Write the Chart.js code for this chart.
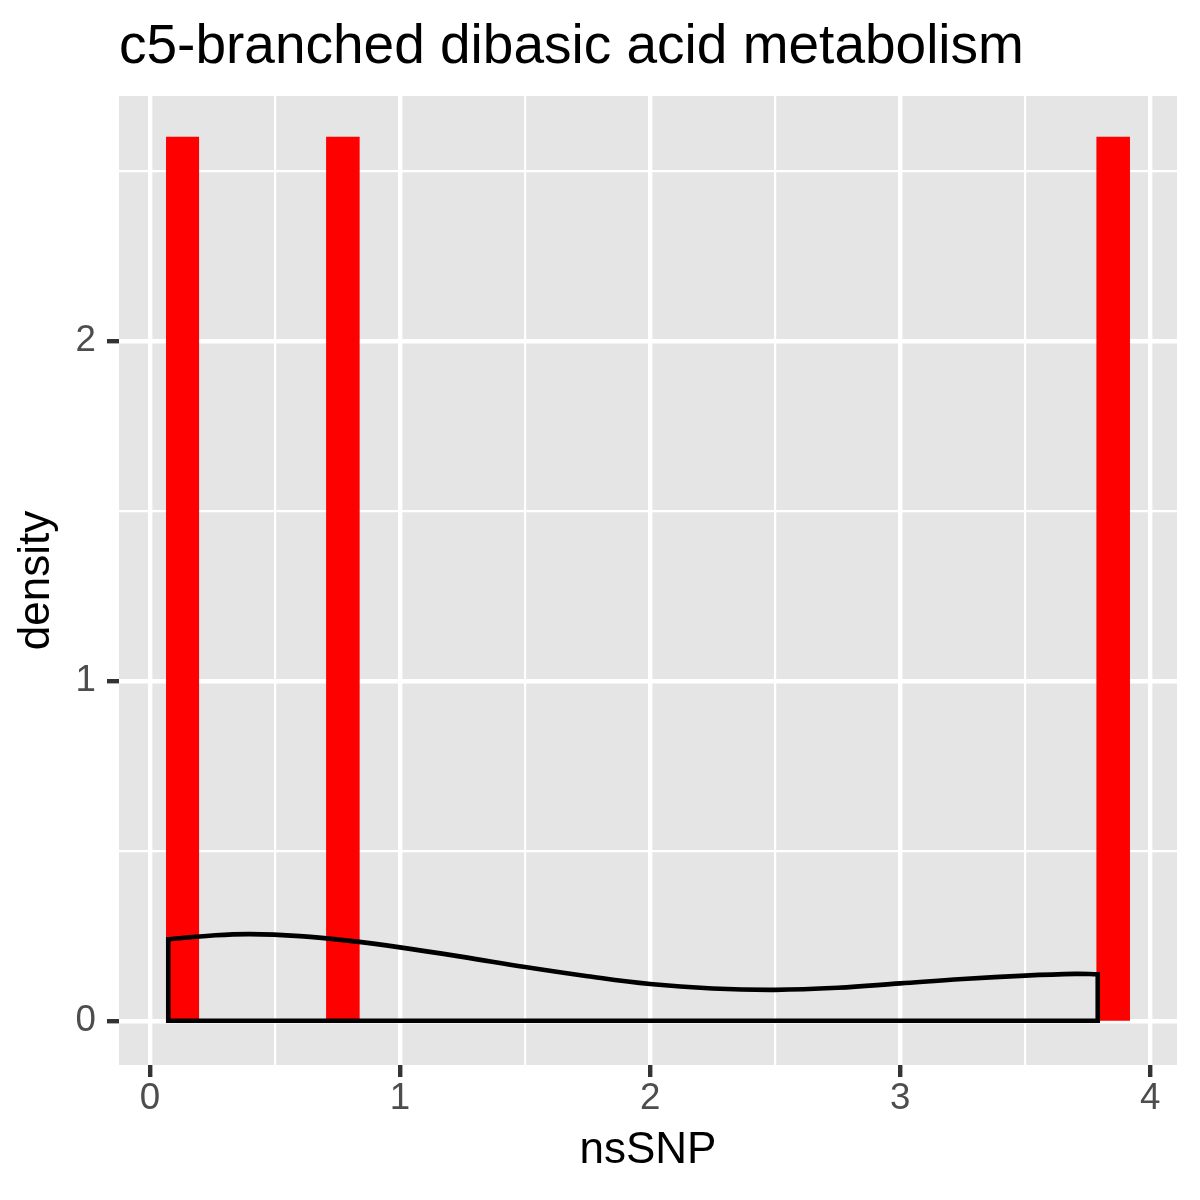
<!DOCTYPE html>
<html>
<head>
<meta charset="utf-8">
<script src="https://cdn.jsdelivr.net/npm/chart.js@4.4.0/dist/chart.umd.min.js"></script>
<style>
  body { margin: 0; background: #fff; }
  #wrap { width: 1200px; height: 1200px; }
</style>
</head>
<body>
<div id="wrap"><canvas id="densityChart"></canvas></div>
<script>
// histogram bins (nsSNP), density per bin
const binStart = [0.064, 0.704, 3.784];
const binEnd = [0.197, 0.839, 3.919];
const binDensity = [2.6, 2.6, 2.6];

// kernel density curve
const densityX = [0.073, 0.25, 0.4, 0.6, 0.8, 1.0, 1.25, 1.5, 1.75, 2.0, 2.25, 2.5, 2.75, 3.0, 3.25, 3.5, 3.7, 3.79];
const densityY = [0.240, 0.251, 0.255, 0.249, 0.235, 0.216, 0.188, 0.158, 0.131, 0.108, 0.095, 0.091, 0.097, 0.110, 0.123, 0.133, 0.138, 0.137];

// axis ticks
const xMajor = [0, 1, 2, 3, 4];
const xMinor = [0.5, 1.5, 2.5, 3.5];
const yMajor = [0, 1, 2];
const yMinor = [0.5, 1.5, 2.5];

const FONT = "'Liberation Sans', Arial, Helvetica, sans-serif";

function isMajor(list, v) {
    return list.some(m => Math.abs(m - v) < 1e-9);
}

// one filled rectangle per bin
const barSets = binStart.map((s, i) => ({
    data: [
        { x: s, y: 0 },
        { x: s, y: binDensity[i] },
        { x: binEnd[i], y: binDensity[i] },
        { x: binEnd[i], y: 0 }
    ],
    showLine: true,
    fill: 'origin',
    backgroundColor: '#FF0000',
    borderColor: 'rgba(0,0,0,0)',
    borderWidth: 0,
    pointRadius: 0,
    tension: 0
}));

const last = densityX.length - 1;

const curveSet = {
    data: densityX.map((x, i) => ({ x: x, y: densityY[i] })),
    showLine: true,
    fill: false,
    borderColor: '#000000',
    borderWidth: 4.6,
    pointRadius: 0,
    tension: 0.4
};

const outlineSet = {
    data: [
        { x: densityX[0], y: densityY[0] },
        { x: densityX[0], y: 0 },
        { x: densityX[last], y: 0 },
        { x: densityX[last], y: densityY[last] }
    ],
    showLine: true,
    fill: false,
    borderColor: '#000000',
    borderWidth: 4.6,
    borderJoinStyle: 'miter',
    borderCapStyle: 'square',
    pointRadius: 0,
    tension: 0
};

const panelBg = {
    id: 'panelBg',
    beforeDraw(chart) {
        const a = chart.chartArea;
        const c = chart.ctx;
        c.save();
        c.fillStyle = '#E5E5E5';
        c.fillRect(a.left, a.top, a.right - a.left, a.bottom - a.top);
        c.restore();
    }
};

const plotTitle = {
    id: 'plotTitle',
    afterDraw(chart) {
        const c = chart.ctx;
        c.save();
        c.fillStyle = '#000000';
        c.font = '55px ' + FONT;
        c.textAlign = 'left';
        c.textBaseline = 'alphabetic';
        c.fillText('c5-branched dibasic acid metabolism', chart.chartArea.left, 63);
        c.restore();
    }
};

function gridFor(major) {
    return {
        color: '#FFFFFF',
        lineWidth: ctx => isMajor(major, ctx.tick.value) ? 4.4 : 2.2,
        tickColor: ctx => isMajor(major, ctx.tick.value) ? '#333333' : 'rgba(0,0,0,0)',
        tickWidth: 4.4,
        tickLength: 12,
        drawTicks: true
    };
}

const ctx = document.getElementById('densityChart').getContext('2d');

const chart = new Chart(ctx, {
    type: 'scatter',
    data: { datasets: [curveSet, outlineSet, ...barSets] },
    plugins: [panelBg, plotTitle],
    options: {
        responsive: true,
        maintainAspectRatio: false,
        devicePixelRatio: 1,
        animation: false,
        layout: { padding: { top: 96, right: 23, left: 0, bottom: 0 } },
        plugins: {
            legend: { display: false },
            tooltip: { enabled: false }
        },
        scales: {
            x: {
                type: 'linear',
                min: -0.124,
                max: 4.107,
                afterBuildTicks: s => { s.ticks = [...xMajor, ...xMinor].sort((a, b) => a - b).map(v => ({ value: v })); },
                afterFit: s => { s.height = 135; },
                border: { display: false },
                grid: gridFor(xMajor),
                ticks: {
                    autoSkip: false,
                    maxRotation: 0,
                    padding: 4,
                    color: '#4D4D4D',
                    font: { family: FONT, size: 36.7, lineHeight: 1 },
                    callback: v => isMajor(xMajor, v) ? String(v) : ''
                },
                title: {
                    display: true,
                    text: 'nsSNP',
                    color: '#000000',
                    font: { family: FONT, size: 44, lineHeight: 1.2 },
                    padding: { top: 0, bottom: 23 }
                }
            },
            y: {
                type: 'linear',
                min: -0.13,
                max: 2.72,
                afterBuildTicks: s => { s.ticks = [...yMajor, ...yMinor].sort((a, b) => a - b).map(v => ({ value: v })); },
                afterFit: s => { s.width = 119; },
                border: { display: false },
                grid: gridFor(yMajor),
                ticks: {
                    autoSkip: false,
                    padding: 11,
                    color: '#4D4D4D',
                    font: { family: FONT, size: 36.7, lineHeight: 1 },
                    callback: v => isMajor(yMajor, v) ? String(v) : ''
                },
                title: {
                    display: true,
                    text: 'density',
                    color: '#000000',
                    font: { family: FONT, size: 44, lineHeight: 1.2 },
                    padding: { top: 10, bottom: 0 }
                }
            }
        }
    }
});
</script>
</body>
</html>
